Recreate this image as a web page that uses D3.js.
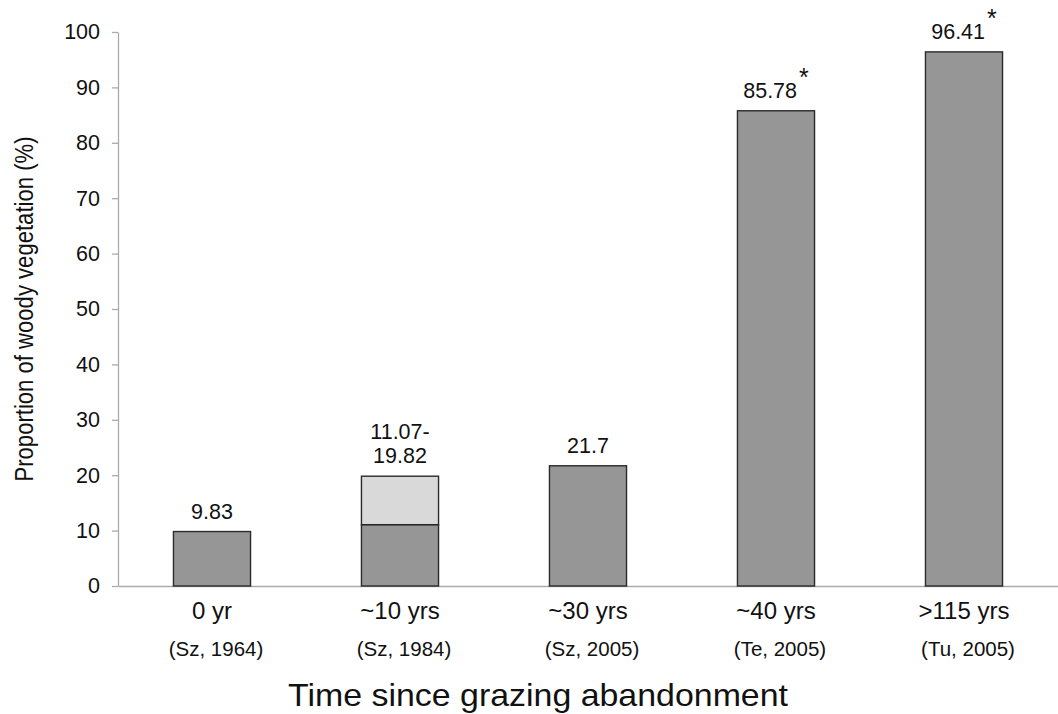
<!DOCTYPE html>
<html>
<head>
<meta charset="utf-8">
<script src="https://cdn.jsdelivr.net/npm/d3@7"></script>
<style>
  html, body { margin: 0; padding: 0; background: #fff; }
  svg { display: block; font-family: "Liberation Sans", Arial, sans-serif; }
</style>
</head>
<body>
<svg id="chart" width="1058" height="714"></svg>
<script>
// ---- data ----
const categories = ["0 yr", "~10 yrs", "~30 yrs", "~40 yrs", ">115 yrs"];
const sources = ["(Sz, 1964)", "(Sz, 1984)", "(Sz, 2005)", "(Te, 2005)", "(Tu, 2005)"];
const baseValues = [9.83, 11.07, 21.7, 85.78, 96.41];
const upperValues = [null, 19.82, null, null, null];
const valueLabels = [["9.83"], ["11.07-", "19.82"], ["21.7"], ["85.78"], ["96.41"]];
const significant = [false, false, false, true, true];
const yTicks = [0, 10, 20, 30, 40, 50, 60, 70, 80, 90, 100];
const yTitle = "Proportion of woody vegetation (%)";
const xTitle = "Time since grazing abandonment";

// ---- layout ----
const svg = d3.select("#chart");
const plotLeft = 118, plotRight = 1058, plotTop = 32, plotBottom = 586;

const x = d3.scaleBand().domain(categories).range([plotLeft, plotRight])
  .paddingInner(0.59).paddingOuter(0.295);
const y = d3.scaleLinear().domain([0, 100]).range([plotBottom, plotTop]);

const axisColor = "#ababab";
const barDark = "#969696";
const barLight = "#d9d9d9";
const barStroke = "#2a2a2a";

// y axis
const yAxis = svg.append("g").attr("transform", `translate(${plotLeft},0)`)
  .call(d3.axisLeft(y).tickValues(yTicks).tickSize(6).tickPadding(12).tickSizeOuter(0));
yAxis.select(".domain").attr("stroke", axisColor).attr("stroke-width", 1.3);
yAxis.selectAll(".tick line").attr("stroke", axisColor).attr("stroke-width", 1.3);
yAxis.selectAll(".tick text").attr("font-size", 21.5).attr("fill", "#111")
  .attr("font-family", "Liberation Sans, Arial, sans-serif");

// x axis line
const xAxis = svg.append("g").attr("transform", `translate(0,${plotBottom})`)
  .call(d3.axisBottom(x).tickSize(0).tickSizeOuter(0).tickFormat(""));
xAxis.select(".domain").attr("stroke", axisColor).attr("stroke-width", 1.3);
xAxis.selectAll(".tick text").remove();

// bars
const bars = svg.append("g");
categories.forEach((c, i) => {
  const bx = x(c), bw = x.bandwidth();
  bars.append("rect")
    .attr("x", bx).attr("y", y(baseValues[i]))
    .attr("width", bw).attr("height", y(0) - y(baseValues[i]))
    .attr("fill", barDark).attr("stroke", barStroke).attr("stroke-width", 1.4);
  if (upperValues[i] != null) {
    bars.append("rect")
      .attr("x", bx).attr("y", y(upperValues[i]))
      .attr("width", bw).attr("height", y(baseValues[i]) - y(upperValues[i]))
      .attr("fill", barLight).attr("stroke", barStroke).attr("stroke-width", 1.4);
  }
});

// value labels
const labels = svg.append("g").attr("font-size", 21.5).attr("fill", "#111").attr("text-anchor", "middle");
categories.forEach((c, i) => {
  const cx = x(c) + x.bandwidth() / 2;
  const top = upperValues[i] != null ? upperValues[i] : baseValues[i];
  const lines = valueLabels[i];
  const baseY = y(top) - 13;
  lines.forEach((t, j) => {
    const ty = baseY - (lines.length - 1 - j) * 24;
    const txt = labels.append("text").attr("x", cx).attr("y", ty).text(t);
    if (significant[i] && j === lines.length - 1) {
      txt.text(null);
      txt.append("tspan").text(t);
      txt.append("tspan").attr("dx", 2).attr("dy", -12).attr("font-size", 25).text("*");
    }
  });
});

// category labels
const cat = svg.append("g").attr("fill", "#111").attr("text-anchor", "middle");
categories.forEach((c, i) => {
  const cx = x(c) + x.bandwidth() / 2;
  cat.append("text").attr("x", cx).attr("y", 619).attr("font-size", 24).text(c);
  cat.append("text").attr("x", cx + 4).attr("y", 656).attr("font-size", 20.5).text(sources[i]);
});

// axis titles
svg.append("text").attr("x", 538).attr("y", 706).attr("text-anchor", "middle")
  .attr("font-size", 32).attr("fill", "#111")
  .attr("textLength", 500).attr("lengthAdjust", "spacingAndGlyphs").text(xTitle);
svg.append("text").attr("transform", `translate(33,${(plotTop + plotBottom) / 2}) rotate(-90)`)
  .attr("text-anchor", "middle").attr("font-size", 25).attr("fill", "#111")
  .attr("textLength", 345).attr("lengthAdjust", "spacingAndGlyphs").text(yTitle);
</script>
</body>
</html>
